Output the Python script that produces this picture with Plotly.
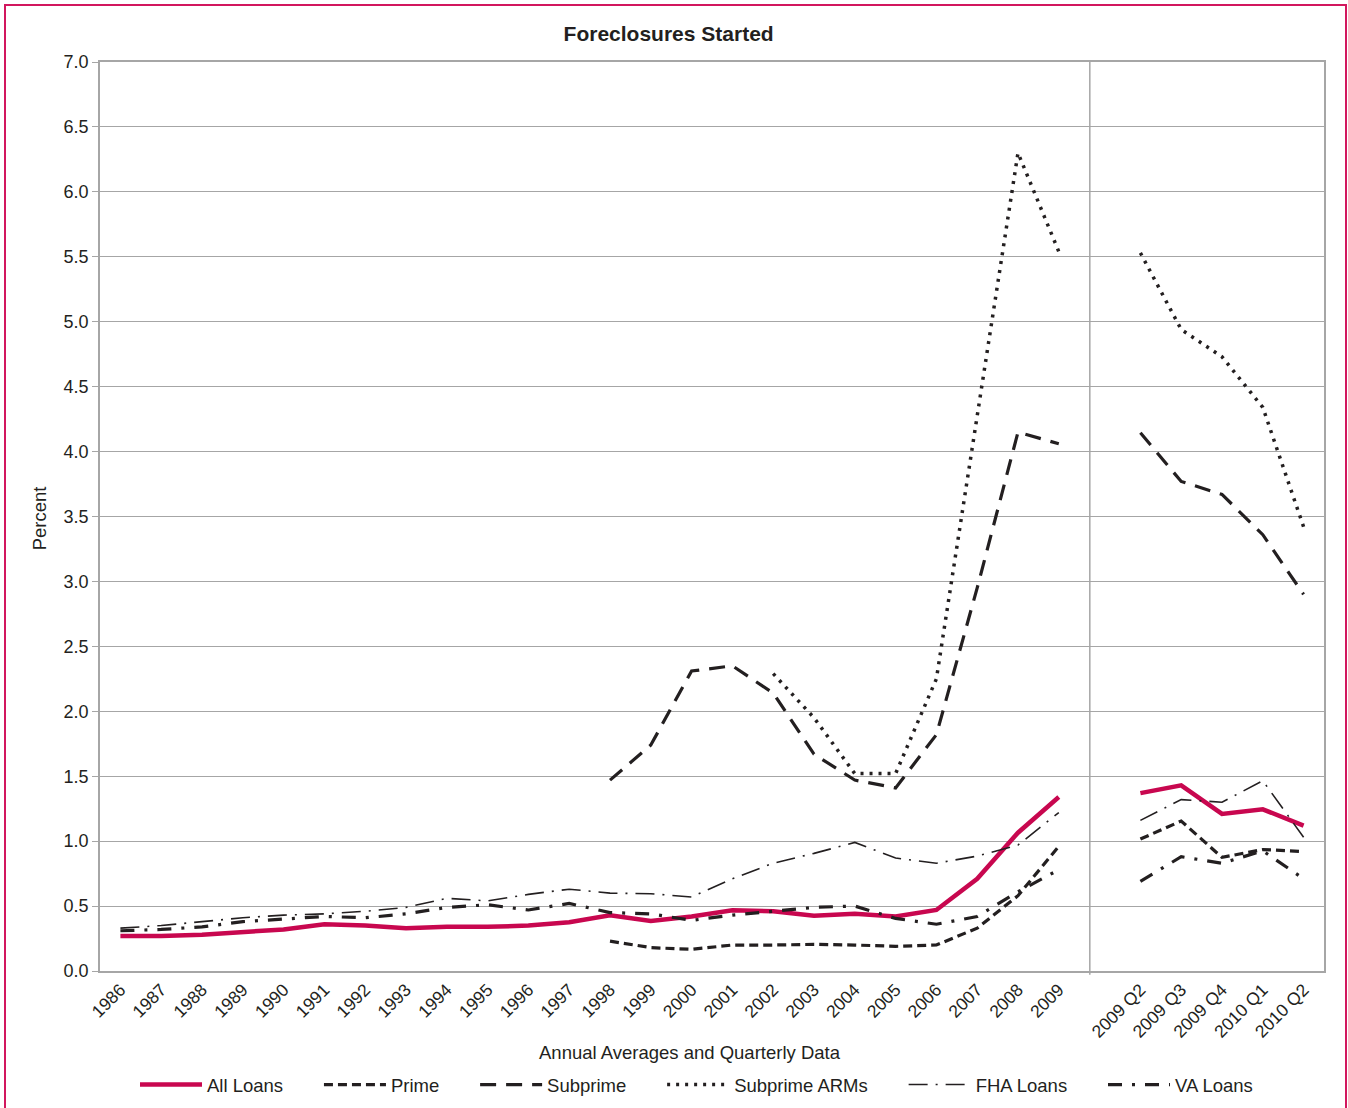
import plotly.graph_objects as go

# ---------------- data ----------------
annual_labels = [str(y) for y in range(1986, 2010)]
quarter_labels = ["2009 Q2", "2009 Q3", "2009 Q4", "2010 Q1", "2010 Q2"]

# annual values (None = no data)
all_loans_annual = [0.27, 0.27, 0.28, 0.30, 0.32, 0.36, 0.35, 0.33, 0.34, 0.34, 0.35, 0.375,
                    0.43, 0.385, 0.42, 0.467, 0.46, 0.425, 0.44, 0.42, 0.47, 0.71, 1.065, 1.34]
prime_annual = [None] * 12 + [0.23, 0.18, 0.167, 0.20, 0.20, 0.205, 0.20, 0.19, 0.20, 0.33, 0.58, 0.96]
subprime_annual = [None] * 12 + [1.47, 1.74, 2.31, 2.35, 2.14, 1.67, 1.47, 1.41, 1.82, 2.95, 4.15, 4.06]
subprime_arms_annual = [None] * 16 + [2.29, 1.95, 1.52, 1.52, 2.25, 4.28, 6.30, 5.54]
fha_annual = [0.33, 0.35, 0.38, 0.41, 0.43, 0.44, 0.46, 0.49, 0.56, 0.54, 0.59, 0.63,
              0.60, 0.595, 0.57, 0.71, 0.83, 0.906, 0.99, 0.87, 0.83, 0.885, 0.97, 1.22]
va_annual = [0.31, 0.32, 0.34, 0.38, 0.40, 0.42, 0.41, 0.44, 0.49, 0.51, 0.47, 0.52,
             0.45, 0.44, 0.39, 0.43, 0.46, 0.49, 0.50, 0.405, 0.36, 0.42, 0.61, 0.78]

# quarterly values
all_loans_q = [1.37, 1.43, 1.21, 1.245, 1.12]
prime_q = [1.016, 1.155, 0.875, 0.935, 0.92]
subprime_q = [4.145, 3.77, 3.67, 3.36, 2.90]
subprime_arms_q = [5.53, 4.94, 4.73, 4.34, 3.42]
fha_q = [1.16, 1.32, 1.30, 1.465, 1.03]
va_q = [0.69, 0.88, 0.83, 0.925, 0.71]

y_ticks = [0.0, 0.5, 1.0, 1.5, 2.0, 2.5, 3.0, 3.5, 4.0, 4.5, 5.0, 5.5, 6.0, 6.5, 7.0]

# ---------------- positions ----------------
n_a = len(annual_labels)
x_annual = list(range(n_a))
x_quarter = [n_a + 1 + i for i in range(len(quarter_labels))]
tickvals = x_annual + x_quarter
ticktext = annual_labels + quarter_labels

RED = "#C8074F"
BLK = "#231F20"

series = [
    ("All Loans", all_loans_annual, all_loans_q, dict(color=RED, width=4.5, dash="solid")),
    ("Prime", prime_annual, prime_q, dict(color=BLK, width=3.2, dash="9px,5px")),
    ("Subprime", subprime_annual, subprime_q, dict(color=BLK, width=3.2, dash="16px,10px")),
    ("Subprime ARMs", subprime_arms_annual, subprime_arms_q, dict(color=BLK, width=3.5, dash="3px,6px")),
    ("FHA Loans", fha_annual, fha_q, dict(color=BLK, width=1.6, dash="19px,8px,2px,8px")),
    ("VA Loans", va_annual, va_q, dict(color=BLK, width=3.2, dash="14px,10px,3px,10px")),
]

PAD = "\u00a0" * 6

fig = go.Figure()
for name, ann, q, line in series:
    fig.add_trace(go.Scatter(x=x_annual, y=ann, mode="lines", name=name + PAD, line=line,
                             legendgroup=name, showlegend=True, connectgaps=False))
    fig.add_trace(go.Scatter(x=x_quarter, y=q, mode="lines", name=name, line=line,
                             legendgroup=name, showlegend=False))

FONT = "Liberation Sans, Arial, sans-serif"
GRID = "#A6A6A6"

fig.update_layout(
    width=1348, height=1108,
    margin=dict(l=100, r=24, t=62, b=137, autoexpand=False),
    paper_bgcolor="white", plot_bgcolor="white",
    font=dict(family=FONT, size=18, color=BLK),
    title=dict(text="<b>Foreclosures Started</b>", x=0.496, xanchor="center",
               y=1 - 34 / 1108, yanchor="middle", font=dict(size=21, color=BLK)),
    showlegend=True,
    legend=dict(orientation="h", x=0.5, xanchor="center",
                yref="container", y=1 - 1085 / 1108, yanchor="middle",
                font=dict(size=18.5, color=BLK), itemwidth=62, traceorder="normal"),
)

fig.update_xaxes(range=[-0.5, n_a + len(quarter_labels) + 0.5], tickmode="array",
                 tickvals=tickvals, ticktext=ticktext, tickangle=-45, automargin=False,
                 showgrid=False, showline=True, linecolor=GRID, linewidth=1.5, mirror=True,
                 ticks="", tickfont=dict(size=17.5, color=BLK), zeroline=False)
fig.update_yaxes(range=[0, 7], tickmode="array", tickvals=y_ticks, automargin=False,
                 ticktext=[f"{v:.1f}" for v in y_ticks],
                 showgrid=True, gridcolor=GRID, gridwidth=1.2,
                 showline=True, linecolor=GRID, linewidth=1.5, mirror=True,
                 ticks="outside", ticklen=6, tickcolor=GRID,
                 tickfont=dict(size=18, color=BLK), zeroline=False)

# divider between annual and quarterly sections
div_x = n_a - 0.24
fig.add_shape(type="line", xref="x", yref="paper", x0=div_x, x1=div_x, y0=-0.004, y1=1,
              line=dict(color=GRID, width=1.5))

# outer border
fig.add_shape(type="rect", xref="paper", yref="paper",
              x0=-95 / 1224, x1=1246 / 1224, y0=-150 / 909, y1=(971 - 5) / 909,
              line=dict(color="#D2175E", width=2))

# axis titles
fig.add_annotation(text="Percent", xref="paper", yref="paper", x=-61 / 1224, y=0.498,
                   textangle=-90, showarrow=False, font=dict(size=18.5, color=BLK),
                   xanchor="center", yanchor="middle")
fig.add_annotation(text="Annual Averages and Quarterly Data", xref="paper", yref="paper",
                   x=(690 - 100) / 1224, y=(971 - 1052) / 909, showarrow=False,
                   font=dict(size=18.5, color=BLK), xanchor="center", yanchor="middle")

fig.write_html("out.html", config={"displayModeBar": False},
               post_script="document.body.style.margin='0px';")
